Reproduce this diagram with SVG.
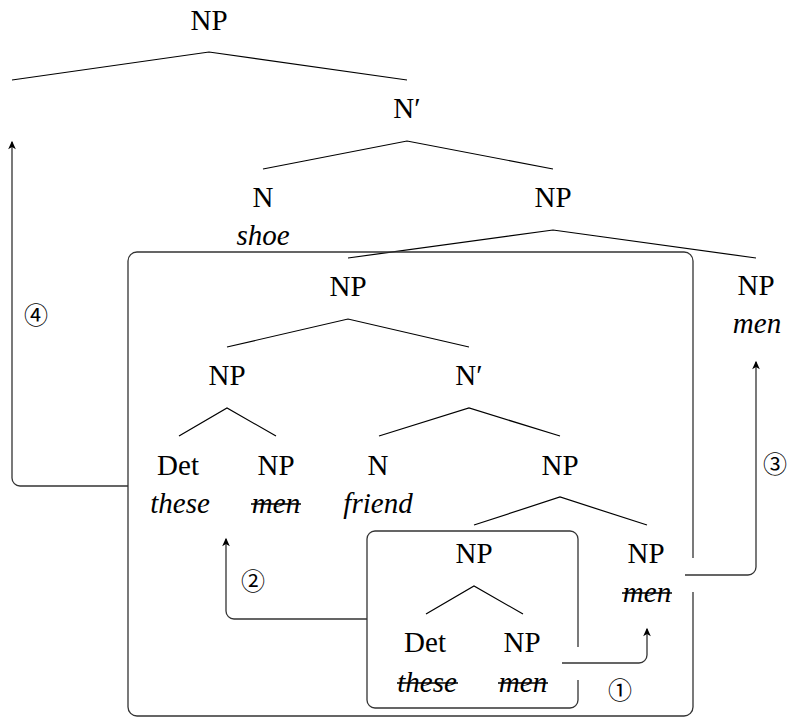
<svg xmlns="http://www.w3.org/2000/svg" width="788" height="719" viewBox="0 0 788 719">
<style>
.t{font-family:"Liberation Serif","Times New Roman",serif;font-size:29px;fill:#000;text-anchor:middle}
.i{font-style:italic}
.e{fill:none;stroke:#000;stroke-width:1.2}
.b{fill:none;stroke:#333;stroke-width:1.3}
.a{fill:none;stroke:#333;stroke-width:1.3;marker-end:url(#ah)}
.s{stroke:#000;stroke-width:1.3}
.c{font-family:"Noto Sans CJK JP","DejaVu Sans",sans-serif;font-size:24px;fill:#000;text-anchor:middle;dominant-baseline:central}
</style>
<defs>
<marker id="ah" markerUnits="userSpaceOnUse" markerWidth="12" markerHeight="10" viewBox="-8 -4 10 8" refX="0" refY="0" orient="auto">
<path d="M1,0 L-6,-3.2 L-4.2,0 L-6,3.2 Z" fill="#000"/>
</marker>
</defs>
<rect width="788" height="719" fill="#fff"/>
<g id="connectors">
<path class="e" d="M12 80 L209 52 L407 80"/>
<path class="e" d="M263 169 L407 141 L553 169"/>
<path class="e" d="M348 258 L553 230 L756 258"/>
<path class="e" d="M227 347 L348 319 L469 347"/>
<path class="e" d="M179 436 L227 408 L276 436"/>
<path class="e" d="M379 436 L469 408 L560 436"/>
<path class="e" d="M474 525 L560 497 L647 525"/>
<path class="e" d="M426 614 L474 586 L523 614"/>
<path class="a" d="M562 663 H639 A8 8 0 0 0 647 655 V629"/>
<path class="a" d="M367 619 H234 A8 8 0 0 1 226 611 V539"/>
<path class="a" d="M685 575 H748 A8 8 0 0 0 756 567 V362"/>
<path class="a" d="M128 486 H20 A8 8 0 0 1 12 478 V142"/>
</g>
<g id="box-outer"><path class="b" d="M693 558 V261 A9 9 0 0 0 684 252 H137 A9 9 0 0 0 128 261 V707 A9 9 0 0 0 137 716 H684 A9 9 0 0 0 693 707 V592"/></g>
<g id="box-inner"><path class="b" d="M578 647 V539 A8 8 0 0 0 570 531 H375 A8 8 0 0 0 367 539 V700 A8 8 0 0 0 375 708 H570 A8 8 0 0 0 578 700 V680"/></g>
<g id="n-root"><text class="t" x="209" y="30">NP</text></g>
<g id="n-nbar1"><text class="t" x="407" y="118">N′</text></g>
<g id="n-shoe"><text class="t" x="263" y="207">N</text><text class="t i" x="263" y="245">shoe</text></g>
<g id="n-np1"><text class="t" x="553" y="207">NP</text></g>
<g id="n-np2"><text class="t" x="348" y="296">NP</text></g>
<g id="n-men1"><text class="t" x="756" y="295">NP</text><text class="t i" x="757" y="333">men</text></g>
<g id="n-np3"><text class="t" x="227" y="385">NP</text></g>
<g id="n-nbar2"><text class="t" x="469" y="385">N′</text></g>
<g id="n-det1"><text class="t" x="178" y="475">Det</text><text class="t i" x="180" y="513">these</text></g>
<g id="n-men2"><text class="t" x="276" y="475">NP</text><text class="t i" x="276" y="513">men</text><line class="s" x1="251" y1="504" x2="301" y2="504"/></g>
<g id="n-friend"><text class="t" x="378" y="475">N</text><text class="t i" x="378" y="513">friend</text></g>
<g id="n-np4"><text class="t" x="560" y="475">NP</text></g>
<g id="n-np5"><text class="t" x="474" y="563">NP</text></g>
<g id="n-men3"><text class="t" x="646" y="563">NP</text><text class="t i" x="647" y="602">men</text><line class="s" x1="622" y1="593" x2="672" y2="593"/></g>
<g id="n-det2"><text class="t" x="425" y="652">Det</text><text class="t i" x="427" y="692">these</text><line class="s" x1="397" y1="683" x2="458" y2="683"/></g>
<g id="n-men4"><text class="t" x="522" y="652">NP</text><text class="t i" x="523" y="692">men</text><line class="s" x1="498" y1="683" x2="548" y2="683"/></g>
<g id="labels">
<text class="c" x="620" y="688">①</text>
<text class="c" x="253" y="579">②</text>
<text class="c" x="775" y="462">③</text>
<text class="c" x="36" y="313">④</text>
</g>
</svg>
